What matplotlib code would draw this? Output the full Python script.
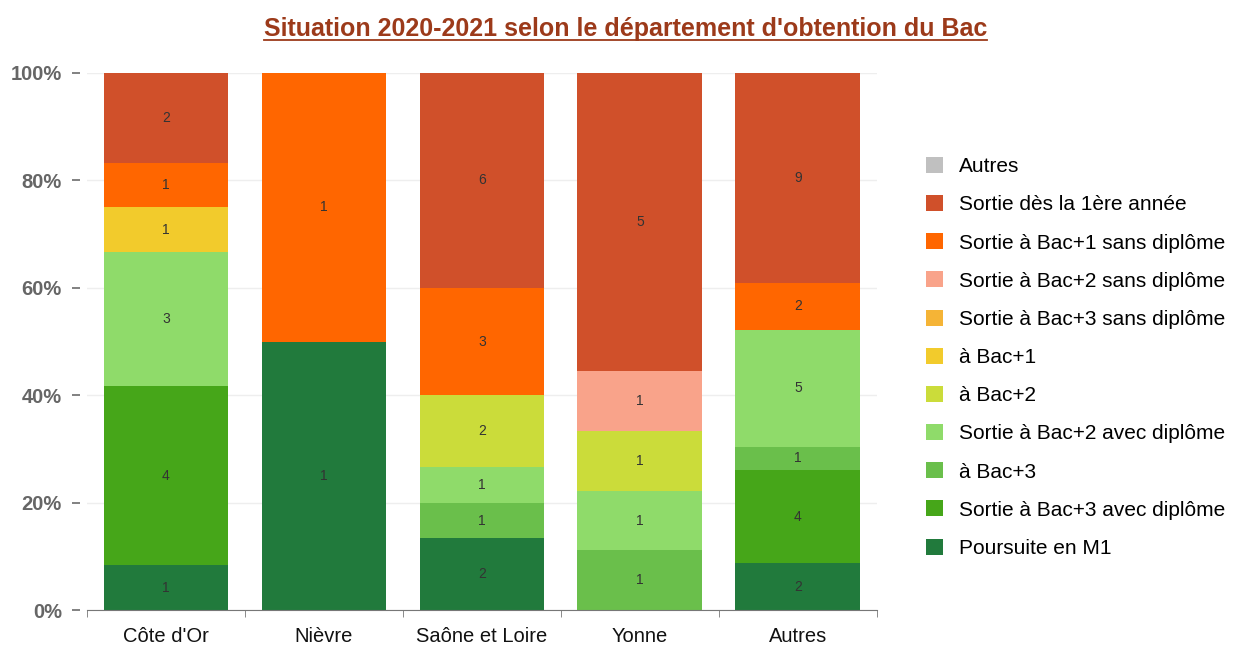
import numpy as np
import matplotlib.pyplot as plt
from matplotlib.lines import Line2D
from matplotlib.patches import Patch

plt.rcParams['font.family'] = ['Liberation Sans', 'DejaVu Sans']

# categories and series (counts, stacked bottom -> top)
departements = ["Côte d'Or", "Nièvre", "Saône et Loire", "Yonne", "Autres"]

series_names = [
    "Poursuite en M1",
    "Sortie à Bac+3 avec diplôme",
    "à Bac+3",
    "Sortie à Bac+2 avec diplôme",
    "à Bac+2",
    "à Bac+1",
    "Sortie à Bac+3 sans diplôme",
    "Sortie à Bac+2 sans diplôme",
    "Sortie à Bac+1 sans diplôme",
    "Sortie dès la 1ère année",
    "Autres",
]
series_colors = [
    "#217a3c", "#46a619", "#6abf4b", "#8fdb6a", "#cbdc3a", "#f2cb2c",
    "#f5b436", "#f9a38a", "#ff6600", "#d0502a", "#c0c0c0",
]

poursuite_m1 = [1, 1, 2, 0, 2]
sortie_bac3_avec = [4, 0, 0, 0, 4]
a_bac3 = [0, 0, 1, 1, 1]
sortie_bac2_avec = [3, 0, 1, 1, 5]
a_bac2 = [0, 0, 2, 1, 0]
a_bac1 = [1, 0, 0, 0, 0]
sortie_bac3_sans = [0, 0, 0, 0, 0]
sortie_bac2_sans = [0, 0, 0, 1, 0]
sortie_bac1_sans = [1, 1, 3, 0, 2]
sortie_1ere = [2, 0, 6, 5, 9]
autres = [0, 0, 0, 0, 0]

counts = np.array([poursuite_m1, sortie_bac3_avec, a_bac3, sortie_bac2_avec,
                   a_bac2, a_bac1, sortie_bac3_sans, sortie_bac2_sans,
                   sortie_bac1_sans, sortie_1ere, autres], dtype=float)
totals = counts.sum(axis=0)
pct = counts / totals * 100

fig = plt.figure(figsize=(12.39, 6.46), dpi=100)
ax = fig.add_axes([0.0702, 0.0557, 0.6375, 0.8313])

# y ticks sit a few pixels away from the plot area
ax.spines['left'].set_position(('outward', 5))
for s in ['top', 'right', 'left']:
    ax.spines[s].set_visible(False)
ax.spines['bottom'].set_color('#777777')

x = np.arange(len(departements))
bottom = np.zeros(len(departements))
for i in range(len(series_names)):
    ax.bar(x, pct[i], 0.79, bottom=bottom, color=series_colors[i], zorder=2)
    for j in range(len(departements)):
        if counts[i, j] > 0:
            ax.text(x[j], bottom[j] + pct[i, j] / 2, f"{int(counts[i, j])}",
                    ha='center', va='center', fontsize=10, color='#333333', zorder=3)
    bottom += pct[i]

ax.set_xlim(-0.5, len(departements) - 0.5)
ax.set_ylim(0, 100)
ax.set_yticks([0, 20, 40, 60, 80, 100])
ax.set_yticklabels(["0%", "20%", "40%", "60%", "80%", "100%"],
                   fontsize=14.5, fontweight='bold', color='#666666')
ax.set_xticks(x)
ax.set_xticklabels(departements, fontsize=14.5, color='#111111')
ax.set_xticks(np.arange(-0.5, len(departements)), minor=True)
ax.tick_params(axis='x', which='major', length=0, pad=12)
ax.tick_params(axis='x', which='minor', length=5, color='#777777')
ax.tick_params(axis='y', length=6, width=1.3, color='#777777', pad=7)
ax.grid(axis='y', color='#eeeeee', linewidth=1, zorder=0)

# title, underlined
title = fig.text(0.505, 0.955, "Situation 2020-2021 selon le département d'obtention du Bac",
                 ha='center', va='center', fontsize=18, fontweight='bold',
                 color='#9c3a1a')
fig.canvas.draw()
bb = title.get_window_extent().transformed(fig.transFigure.inverted())
fig.add_artist(Line2D([bb.x0, bb.x1], [bb.y0 + 0.002, bb.y0 + 0.002],
                      transform=fig.transFigure, color='#9c3a1a', linewidth=1.3))

handles = [Patch(facecolor=series_colors[i], edgecolor='none', label=series_names[i])
           for i in range(len(series_names))][::-1]
fig.legend(handles=handles, loc='upper left', bbox_to_anchor=(0.7474, 0.757),
           frameon=False, fontsize=15, handlelength=0.8, handleheight=0.8,
           handletextpad=0.77, labelspacing=0.91, borderpad=0, borderaxespad=0)

fig.savefig("out.png", dpi=100)
